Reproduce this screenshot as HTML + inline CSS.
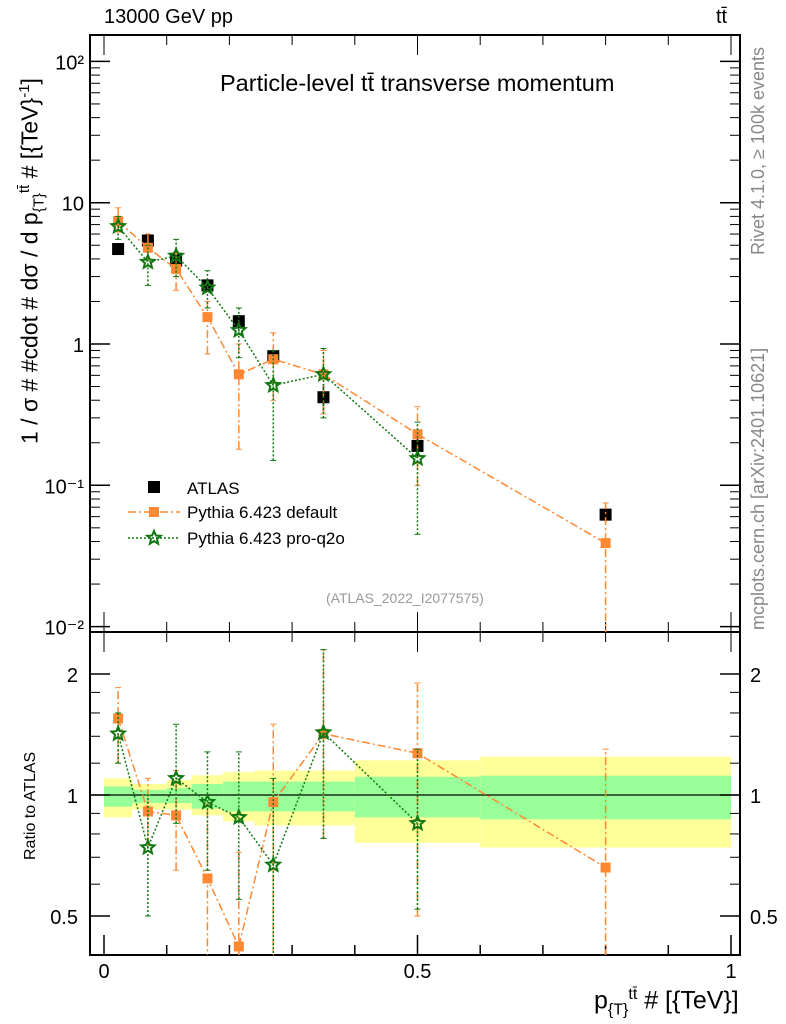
<!DOCTYPE html>
<html><head><meta charset="utf-8"><style>
body{margin:0;background:#fff;}
svg{display:block;font-family:"Liberation Sans",sans-serif;}
</style></head><body>
<svg id="c" width="786" height="1024" xmlns="http://www.w3.org/2000/svg"></svg>
<script>
const xs=[0.0225,0.07,0.115,0.165,0.215,0.27,0.35,0.5,0.8];
const atlas=[4.7,5.4,3.9,2.6,1.45,0.82,0.42,0.19,0.062];
const atlasErr=[[4.4,5.0],[5.0,5.8],[3.6,4.2],[2.4,2.8],[1.3,1.6],[0.7,0.95],[0.33,0.52],[0.16,0.22],[0.055,0.07]];
const pyDef=[7.4,4.8,3.4,1.55,0.61,0.78,0.61,0.23,0.039];
const pyDefErr=[[6.2,9.2],[4.0,6.0],[2.4,4.5],[0.85,2.0],[0.18,1.0],[0.4,1.2],[0.32,0.9],[0.1,0.36],[0.005,0.075]];
const pyQ=[6.8,3.8,4.2,2.5,1.25,0.51,0.61,0.155];
const pyQErr=[[5.5,8],[2.6,5],[3.0,5.5],[1.8,3.3],[0.8,1.8],[0.15,0.9],[0.3,0.93],[0.045,0.28]];
const rDef=[1.55,0.91,0.89,0.62,0.42,0.96,1.42,1.27,0.66];
const rDefErr=[[1.2,1.85],[0.75,1.1],[0.65,1.15],[0.35,0.95],[0.3,0.72],[0.35,1.5],[0.78,2.3],[0.5,1.9],[0.3,1.3]];
const rQ=[1.42,0.74,1.1,0.96,0.88,0.67,1.43,0.85];
const rQErr=[[1.2,1.6],[0.5,1.0],[0.85,1.5],[0.65,1.28],[0.55,1.28],[0.3,1.1],[0.78,2.3],[0.52,1.3]];
const binEdges=[0,0.045,0.1,0.14,0.19,0.24,0.3,0.4,0.6,1.0];
const greenLo=[0.935,0.955,0.955,0.925,0.91,0.91,0.91,0.88,0.87];
const greenHi=[1.05,1.03,1.04,1.065,1.08,1.08,1.08,1.11,1.117];
const yelLo=[0.88,0.92,0.92,0.89,0.86,0.84,0.84,0.76,0.74];
const yelHi=[1.10,1.065,1.09,1.12,1.14,1.15,1.15,1.22,1.245];
const mainTicks=["10\u207B\u00B2","10\u207B\u00B9","1","10","10\u00B2"];
const ratioTicks=[0.5,1,2];
const xTicks=[0,0.5,1];

const L=90,R=740,T=35,MB=632,RB=955;
const X=v=>104+v*627;
const Y=v=>344-141.3*Math.log10(v);
const YR=v=>795-121*Math.log2(v);
const svg=document.getElementById('c');
const NS='http://www.w3.org/2000/svg';
function mk(t,a,p){const e=document.createElementNS(NS,t);for(const k in a)e.setAttribute(k,a[k]);(p||svg).appendChild(e);return e;}
function clipPath(id,y0,y1){const d=mk('clipPath',{id:id});mk('rect',{x:L,y:y0,width:R-L,height:y1-y0},d);}
clipPath('cm',T,MB);clipPath('cr',MB,RB);
const gb=mk('g',{'clip-path':'url(#cr)'});


for(let i=0;i<binEdges.length-1;i++){
 const x0=X(binEdges[i]),x1=X(binEdges[i+1]);
 const y=mk('rect',{x:x0,y:YR(yelHi[i]),width:x1-x0,height:YR(yelLo[i])-YR(yelHi[i]),fill:'#ffff99'},gb);
 
 
 const g=mk('rect',{x:x0,y:YR(greenHi[i]),width:x1-x0,height:YR(greenLo[i])-YR(greenHi[i]),fill:'#99ff99'},gb);
 
 
}
mk('line',{x1:L,x2:R,y1:YR(1),y2:YR(1),stroke:'#000','stroke-width':1.3});
mk('rect',{x:L,y:T,width:R-L,height:MB-T,fill:'none',stroke:'#000','stroke-width':2});
mk('rect',{x:L,y:MB,width:R-L,height:RB-MB,fill:'none',stroke:'#000','stroke-width':2});
for(let d=-2;d<=2;d++){
 const y=Y(Math.pow(10,d));
 mk('line',{x1:L,x2:L+20,y1:y,y2:y,stroke:'#000','stroke-width':1.5});
 mk('line',{x1:R-20,x2:R,y1:y,y2:y,stroke:'#000','stroke-width':1.5});
 const t=mk('text',{x:L-6,y:y+8,'text-anchor':'end','font-size':20});t.textContent=mainTicks[d+2];
 
 
 if(d<2)for(let m=2;m<10;m++){const ym=Y(m*Math.pow(10,d));if(ym<T)continue;
  mk('line',{x1:L,x2:L+10,y1:ym,y2:ym,stroke:'#000'});mk('line',{x1:R-10,x2:R,y1:ym,y2:ym,stroke:'#000'});}
}
for(const r of ratioTicks){const y=YR(r);
 mk('line',{x1:L,x2:L+20,y1:y,y2:y,stroke:'#000','stroke-width':1.5});
 mk('line',{x1:R-20,x2:R,y1:y,y2:y,stroke:'#000','stroke-width':1.5});
 const t=mk('text',{x:L-12,y:y+8,'text-anchor':'end','font-size':20});t.textContent=String(r);
 
 
 const t2=mk('text',{x:R+10,y:y+8,'font-size':20,fill:'#000'});t2.textContent=String(r);
 
 
}
for(const r of [0.6,0.7,0.8,0.9,1.2,1.4,1.6,1.8]){const y=YR(r);
 mk('line',{x1:L,x2:L+10,y1:y,y2:y,stroke:'#000'});mk('line',{x1:R-10,x2:R,y1:y,y2:y,stroke:'#000'});}
for(let v=0;v<=1.0001;v+=0.1){const x=X(v);const big=Math.abs(v*2-Math.round(v*2))<1e-6;const h=big?20:10;
 mk('line',{x1:x,x2:x,y1:RB,y2:RB-h,stroke:'#000','stroke-width':1.5});mk('line',{x1:x,x2:x,y1:MB,y2:MB+h,stroke:'#000'});
 mk('line',{x1:x,x2:x,y1:MB,y2:MB-h,stroke:'#000'});mk('line',{x1:x,x2:x,y1:T,y2:T+h,stroke:'#000'});}
for(const v of xTicks){const t=mk('text',{x:X(v),y:978,'text-anchor':'middle','font-size':20});t.textContent=String(v);
 
 }
function star(cx,cy,r,col,p){let pts=[];for(let i=0;i<10;i++){const a=-Math.PI/2+i*Math.PI/5;const rr=i%2?r*0.45:r;pts.push((cx+rr*Math.cos(a)).toFixed(1)+','+(cy+rr*Math.sin(a)).toFixed(1));}
 return mk('polygon',{points:pts.join(' '),fill:'none',stroke:col,'stroke-width':2},p);}
function series(g,vals,errs,yf,col,dash,marker){
 const pts=vals.map((v,i)=>X(xs[i])+','+yf(v)).join(' ');
 mk('polyline',{points:pts,fill:'none',stroke:col,'stroke-width':1.5,'stroke-dasharray':dash},g);
 vals.forEach((v,i)=>{const x=X(xs[i]);const e=errs[i];
  mk('line',{x1:x,x2:x,y1:yf(e[0]),y2:yf(e[1]),stroke:col,'stroke-width':1.5,'stroke-dasharray':dash},g);
  mk('line',{x1:x-3,x2:x+3,y1:yf(e[0]),y2:yf(e[0]),stroke:col},g);mk('line',{x1:x-3,x2:x+3,y1:yf(e[1]),y2:yf(e[1]),stroke:col},g);
  let m;if(marker==='sq')m=mk('rect',{x:x-5,y:yf(v)-5,width:10,height:10,fill:col},g);else m=star(x,yf(v),7,col,g);
  
  
 });}
const gm=mk('g',{'clip-path':'url(#cm)'});


atlas.forEach((v,i)=>{const x=X(xs[i]);const e=atlasErr[i];
 mk('line',{x1:x,x2:x,y1:Y(e[0]),y2:Y(e[1]),stroke:'#000','stroke-width':1.5},gm);
 const r=mk('rect',{x:x-6,y:Y(v)-6,width:12,height:12,fill:'#000'},gm);
 
 });
series(gm,pyDef,pyDefErr,Y,'#ff8833','8,3,2,3','sq');
series(gm,pyQ,pyQErr,Y,'#117711','2,2','star');
const gr=mk('g',{'clip-path':'url(#cr)'});


series(gr,rDef,rDefErr,YR,'#ff8833','8,3,2,3','sq');
series(gr,rQ,rQErr,YR,'#117711','2,2','star');
const lg=mk('g',{});


mk('rect',{x:148,y:481,width:12,height:12,fill:'#000'},lg);
let t=mk('text',{x:187,y:494,'font-size':17},lg);t.textContent='ATLAS';
mk('line',{x1:128,x2:180,y1:512,y2:512,stroke:'#ff8833','stroke-width':1.5,'stroke-dasharray':'8,3,2,3'},lg);
mk('rect',{x:149,y:507,width:10,height:10,fill:'#ff8833'},lg);
t=mk('text',{x:187,y:518,'font-size':17},lg);t.textContent='Pythia 6.423 default';
mk('line',{x1:128,x2:180,y1:538,y2:538,stroke:'#117711','stroke-width':1.5,'stroke-dasharray':'2,2'},lg);
star(154,538,7,'#117711',lg);
t=mk('text',{x:187,y:544,'font-size':17},lg);t.textContent='Pythia 6.423 pro-q2o';
</script>
<div style="position:absolute;left:0;top:0;width:786px;height:1024px;pointer-events:none;font-family:'Liberation Sans',sans-serif;">
<div style="position:absolute;left:104px;top:6px;font-size:20px;">13000 GeV pp</div>
<div style="position:absolute;left:716px;top:6px;font-size:20px;">tt̄</div>
<div style="position:absolute;left:220px;top:70px;font-size:23.5px;white-space:nowrap;">Particle-level tt̄ transverse momentum</div>
<div style="position:absolute;left:326px;top:590px;font-size:14px;color:#999;">(ATLAS_2022_I2077575)</div>
<div style="position:absolute;left:16px;top:444px;transform-origin:0 0;transform:rotate(-90deg);font-size:23px;white-space:nowrap;">1 / σ # #cdot # dσ / d p<sub style="font-size:15px">{T}</sub><sup style="font-size:15px">tt̄</sup> # [{TeV}<sup style="font-size:15px">-1</sup>]</div>
<div style="position:absolute;left:22px;top:860px;transform-origin:0 0;transform:rotate(-90deg);font-size:16px;white-space:nowrap;">Ratio to ATLAS</div>
<div style="position:absolute;left:594px;top:986px;font-size:25px;white-space:nowrap;">p<sub style="font-size:16px">{T}</sub><sup style="font-size:16px">tt̄</sup> # [{TeV}]</div>
<div style="position:absolute;left:748px;top:255px;transform-origin:0 0;transform:rotate(-90deg);font-size:18px;color:#888;white-space:nowrap;">Rivet 4.1.0, ≥ 100k events</div>
<div style="position:absolute;left:748px;top:630px;transform-origin:0 0;transform:rotate(-90deg);font-size:18px;color:#888;white-space:nowrap;">mcplots.cern.ch [arXiv:2401.10621]</div>
</div>
</body></html>
